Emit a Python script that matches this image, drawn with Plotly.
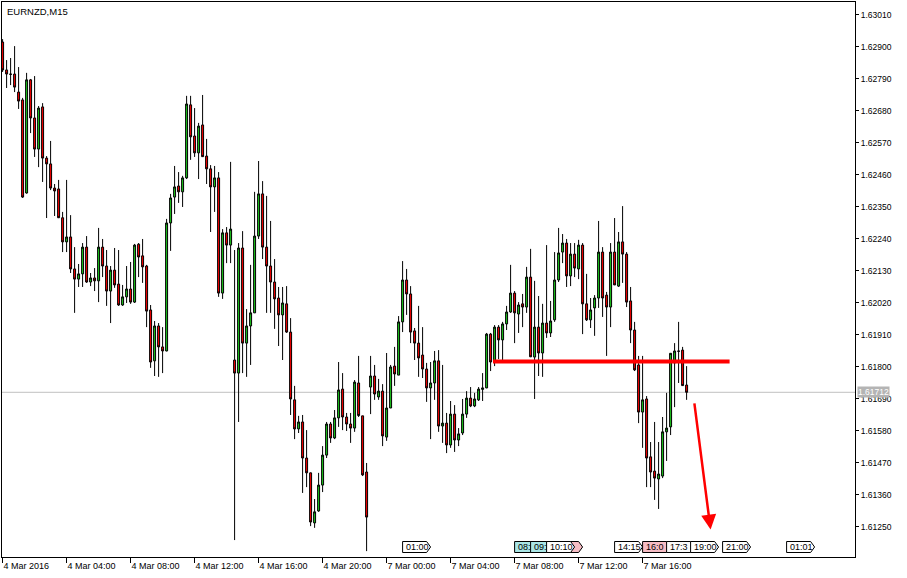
import plotly.graph_objects as go

# ---------------- data ----------------
chart_title = "EURNZD,M15"

open_ = [1.62916, 1.62820, 1.62806, 1.62806, 1.62744, 1.62717, 1.62397, 1.62786, 1.62655, 1.62548,
         1.62693, 1.62517, 1.62497, 1.62414, 1.62411, 1.62312, 1.62229, 1.62246, 1.62136, 1.62101,
         1.62119, 1.62211, 1.62091, 1.62105, 1.62095, 1.62211, 1.62146, 1.62060, 1.62132, 1.62084,
         1.62012, 1.62040, 1.62067, 1.62022, 1.62221, 1.62181, 1.62146, 1.61995, 1.61820, 1.61940,
         1.61868, 1.61854, 1.62294, 1.62383, 1.62421, 1.62401, 1.62449, 1.62700, 1.62593, 1.62535,
         1.62631, 1.62524, 1.62480, 1.62418, 1.62449, 1.62053, 1.62260, 1.62218, 1.61823, 1.61778,
         1.62208, 1.61881, 1.61940, 1.61985, 1.62249, 1.62394, 1.62211, 1.62146, 1.62091, 1.62036,
         1.61978, 1.62016, 1.61919, 1.61686, 1.61586, 1.61610, 1.61486, 1.61435, 1.61263, 1.61304,
         1.61393, 1.61496, 1.61603, 1.61555, 1.61624, 1.61723, 1.61627, 1.61603, 1.61589, 1.61744,
         1.61631, 1.61438, 1.61730, 1.61768, 1.61696, 1.61716, 1.61558, 1.61658, 1.61802, 1.61771,
         1.61954, 1.62098, 1.62050, 1.61923, 1.61881, 1.61840, 1.61792, 1.61727, 1.61744, 1.61820,
         1.61596, 1.61606, 1.61531, 1.61637, 1.61548, 1.61572, 1.61637, 1.61692, 1.61665, 1.61686,
         1.61722, 1.61727, 1.61912, 1.61816, 1.61936, 1.61892, 1.61947, 1.61988, 1.62053, 1.61981,
         1.62016, 1.62005, 1.62108, 1.61833, 1.61936, 1.61847, 1.61950, 1.61916, 1.61961, 1.62098,
         1.62194, 1.62225, 1.62112, 1.62187, 1.62136, 1.62218, 1.62016, 1.61961, 1.62002, 1.62036,
         1.62194, 1.62046, 1.62005, 1.62194, 1.62077, 1.62229, 1.62187, 1.62026, 1.61926, 1.61806,
         1.61644, 1.61689, 1.61490, 1.61441, 1.61414, 1.61424, 1.61576, 1.61593, 1.61813, 1.61854,
         1.61857, 1.61737]

high = [1.62926, 1.62854, 1.62861, 1.62902, 1.62830, 1.62724, 1.62810, 1.62789, 1.62799, 1.62696,
        1.62706, 1.62524, 1.62576, 1.62428, 1.62442, 1.62332, 1.62442, 1.62321, 1.62211, 1.62153,
        1.62225, 1.62249, 1.62122, 1.62139, 1.62277, 1.62239, 1.62201, 1.62146, 1.62208, 1.62201,
        1.62081, 1.62146, 1.62160, 1.62222, 1.62225, 1.62239, 1.62150, 1.62012, 1.61957, 1.61950,
        1.61936, 1.62308, 1.62394, 1.62490, 1.62469, 1.62456, 1.62731, 1.62731, 1.62689, 1.62638,
        1.62734, 1.62583, 1.62493, 1.62490, 1.62469, 1.62273, 1.62280, 1.62504, 1.62201, 1.62225,
        1.62266, 1.61998, 1.62150, 1.62401, 1.62507, 1.62438, 1.62387, 1.62301, 1.62170, 1.62074,
        1.62074, 1.62077, 1.61967, 1.61734, 1.61631, 1.61634, 1.61582, 1.61436, 1.61345, 1.61435,
        1.61527, 1.61610, 1.61610, 1.61651, 1.61816, 1.61778, 1.61641, 1.61641, 1.61754, 1.61837,
        1.61631, 1.61469, 1.61837, 1.61806, 1.61758, 1.61740, 1.61847, 1.61806, 1.61868, 1.61974,
        1.62163, 1.62136, 1.62077, 1.61933, 1.62009, 1.61936, 1.61813, 1.61816, 1.61854, 1.61857,
        1.61806, 1.61641, 1.61682, 1.61668, 1.61589, 1.61689, 1.61716, 1.61730, 1.61710, 1.61730,
        1.61778, 1.61916, 1.61916, 1.61943, 1.61943, 1.61954, 1.62009, 1.62150, 1.62060, 1.62022,
        1.62050, 1.62143, 1.62205, 1.62095, 1.62043, 1.62016, 1.62218, 1.62026, 1.62194, 1.62277,
        1.62256, 1.62239, 1.62225, 1.62225, 1.62236, 1.62225, 1.62119, 1.62036, 1.62046, 1.62301,
        1.62211, 1.62057, 1.62225, 1.62311, 1.62263, 1.62352, 1.62194, 1.62074, 1.61954, 1.61837,
        1.61837, 1.61699, 1.61541, 1.61610, 1.61541, 1.61627, 1.61710, 1.61847, 1.61881, 1.61954,
        1.61868, 1.61802]

low = [1.62813, 1.62758, 1.62768, 1.62744, 1.62686, 1.62380, 1.62395, 1.62603, 1.62521, 1.62486,
       1.62435, 1.62311, 1.62407, 1.62318, 1.62311, 1.62194, 1.62194, 1.62122, 1.61985, 1.62074,
       1.62074, 1.62088, 1.62077, 1.62060, 1.62022, 1.62108, 1.62009, 1.61950, 1.62071, 1.62009,
       1.62009, 1.62019, 1.62016, 1.62019, 1.62108, 1.62088, 1.61936, 1.61796, 1.61768, 1.61765,
       1.61778, 1.61853, 1.62198, 1.62325, 1.62363, 1.62349, 1.62445, 1.62511, 1.62521, 1.62445,
       1.62521, 1.62428, 1.62263, 1.62332, 1.62040, 1.62033, 1.62156, 1.62156, 1.61204, 1.61610,
       1.61778, 1.61765, 1.61806, 1.61985, 1.62239, 1.62170, 1.61985, 1.61985, 1.61930, 1.61871,
       1.61823, 1.61916, 1.61634, 1.61551, 1.61572, 1.61366, 1.61386, 1.61252, 1.61246, 1.61301,
       1.61369, 1.61486, 1.61538, 1.61551, 1.61593, 1.61582, 1.61579, 1.61538, 1.61576, 1.61627,
       1.61424, 1.61166, 1.61637, 1.61686, 1.61686, 1.61527, 1.61545, 1.61658, 1.61734, 1.61771,
       1.61919, 1.61978, 1.61881, 1.61823, 1.61765, 1.61761, 1.61679, 1.61551, 1.61686, 1.61576,
       1.61538, 1.61503, 1.61521, 1.61507, 1.61527, 1.61565, 1.61624, 1.61661, 1.61661, 1.61682,
       1.61682, 1.61726, 1.61785, 1.61802, 1.61826, 1.61823, 1.61926, 1.61985, 1.61881, 1.61916,
       1.61936, 1.61985, 1.61833, 1.61689, 1.61768, 1.61765, 1.61899, 1.61902, 1.61954, 1.62091,
       1.62156, 1.62074, 1.62077, 1.62108, 1.62101, 1.61912, 1.61957, 1.61933, 1.61906, 1.62002,
       1.61971, 1.61837, 1.61936, 1.62081, 1.62074, 1.62088, 1.62005, 1.61881, 1.61785, 1.61606,
       1.61521, 1.61386, 1.61386, 1.61342, 1.61311, 1.61417, 1.61476, 1.61565, 1.61661, 1.61744,
       1.61734, 1.61686]

close = [1.62820, 1.62806, 1.62805, 1.62761, 1.62713, 1.62383, 1.62786, 1.62655, 1.62548, 1.62689,
         1.62517, 1.62497, 1.62414, 1.62404, 1.62312, 1.62229, 1.62246, 1.62136, 1.62101, 1.62119,
         1.62211, 1.62091, 1.62105, 1.62095, 1.62211, 1.62146, 1.62060, 1.62132, 1.62081, 1.62012,
         1.62040, 1.62067, 1.62022, 1.62218, 1.62177, 1.62143, 1.61991, 1.61816, 1.61940, 1.61868,
         1.61854, 1.62294, 1.62380, 1.62418, 1.62401, 1.62449, 1.62703, 1.62590, 1.62535, 1.62627,
         1.62522, 1.62480, 1.62418, 1.62449, 1.62053, 1.62260, 1.62218, 1.62273, 1.61778, 1.62208,
         1.61881, 1.61940, 1.61985, 1.62249, 1.62394, 1.62211, 1.62146, 1.62091, 1.62033, 1.61978,
         1.62019, 1.61919, 1.61689, 1.61586, 1.61610, 1.61486, 1.61435, 1.61266, 1.61301, 1.61393,
         1.61496, 1.61603, 1.61555, 1.61624, 1.61720, 1.61627, 1.61603, 1.61589, 1.61747, 1.61632,
         1.61428, 1.61283, 1.61768, 1.61706, 1.61716, 1.61562, 1.61658, 1.61799, 1.61775, 1.61954,
         1.62098, 1.62050, 1.61919, 1.61881, 1.61830, 1.61792, 1.61727, 1.61744, 1.61820, 1.61596,
         1.61606, 1.61531, 1.61637, 1.61548, 1.61569, 1.61637, 1.61692, 1.61665, 1.61689, 1.61723,
         1.61727, 1.61912, 1.61816, 1.61936, 1.61892, 1.61947, 1.61988, 1.62053, 1.61985, 1.62012,
         1.62005, 1.62108, 1.61834, 1.61936, 1.61847, 1.61950, 1.61916, 1.61957, 1.62098, 1.62191,
         1.62225, 1.62112, 1.62187, 1.62139, 1.62218, 1.62016, 1.61961, 1.61995, 1.62036, 1.62194,
         1.62036, 1.62005, 1.62194, 1.62081, 1.62229, 1.62187, 1.62022, 1.61926, 1.61789, 1.61644,
         1.61686, 1.61486, 1.61438, 1.61417, 1.61431, 1.61576, 1.61589, 1.61846, 1.61854, 1.61853,
         1.61735, 1.61712]

bar_index = list(range(len(close)))

# time axis (bar index of each label; 15-minute bars, weekend removed)
time_tick_index = [0, 16, 32, 48, 64, 80, 96, 112, 128, 144, 160]
time_tick_text = ["4 Mar 2016", "4 Mar 04:00", "4 Mar 08:00", "4 Mar 12:00", "4 Mar 16:00",
                  "4 Mar 20:00", "7 Mar 00:00", "7 Mar 04:00", "7 Mar 08:00", "7 Mar 12:00",
                  "7 Mar 16:00"]

# price axis
price_ticks = [1.61250, 1.61360, 1.61470, 1.61580, 1.61690, 1.61800, 1.61910, 1.62020,
               1.62130, 1.62240, 1.62350, 1.62460, 1.62570, 1.62680, 1.62790, 1.62900, 1.63010]
bid_price = 1.61712

# drawn objects
level_price = 1.61818
level_start_index = 122.6
level_end_index = 181.75
arrow_from = (172.9, 1.61679)
arrow_to = (177.0, 1.61240)

# economic calendar markers (bar index, visible text, fill)
event_index = [138, 100, 128, 132, 136, 153, 160, 166, 172, 180, 196]
event_text = ["", "01:00", "08:", "09:", "10:10", "14:15", "16:0", "17:3", "19:00", "21:00", "01:01"]
event_fill = ["#f6bcc4", "#ffffff", "#a9e6e6", "#a9e6e6", "#ffffff", "#ffffff", "#f6bcc4",
              "#fafafa", "#ffffff", "#ffffff", "#ffffff"]

# ---------------- figure ----------------
FONT = "Liberation Sans, Arial, sans-serif"

fig = go.Figure()
fig.add_trace(go.Candlestick(
    x=bar_index, open=open_, high=high, low=low, close=close,
    increasing=dict(fillcolor="#1ecc1e", line=dict(color="#000000", width=1)),
    decreasing=dict(fillcolor="#ff0000", line=dict(color="#000000", width=1)),
    whiskerwidth=0, hoverinfo="skip", showlegend=False,
))

shapes = []
# bid line
shapes.append(dict(type="line", xref="paper", x0=0, x1=1, yref="y", y0=bid_price, y1=bid_price,
                   line=dict(color="#c0c0c0", width=1), layer="below"))
# red level line
shapes.append(dict(type="line", xref="x", x0=level_start_index, x1=level_end_index, yref="y",
                   y0=level_price, y1=level_price, line=dict(color="#ff0000", width=4), layer="above"))
# event boxes
for idx, fill in zip(event_index, event_fill):
    shapes.append(dict(type="path", xref="x", xsizemode="pixel", xanchor=idx,
                       yref="paper", ysizemode="pixel", yanchor=0,
                       path="M0,4.5 L24,4.5 L28,10 L24,15.5 L0,15.5 Z",
                       fillcolor=fill, line=dict(color="#000000", width=1), layer="above"))

annotations = [
    dict(text=chart_title, xref="paper", yref="paper", x=0, y=1, xanchor="left", yanchor="top",
         xshift=3, yshift=-2, showarrow=False, font=dict(family=FONT, size=9.5, color="#000000")),
    dict(text="1.61712", xref="paper", yref="y", x=1, y=bid_price, xanchor="left", yanchor="middle",
         xshift=2, showarrow=False, bgcolor="#b4b4b4", borderpad=0,
         font=dict(family=FONT, size=8.5, color="#ffffff")),
    dict(text="", x=arrow_to[0], y=arrow_to[1], ax=arrow_from[0], ay=arrow_from[1],
         xref="x", yref="y", axref="x", ayref="y", showarrow=True, arrowhead=2,
         arrowsize=1.2, arrowwidth=2.5, arrowcolor="#ff0000"),
]
for idx, txt in zip(event_index, event_text):
    if txt:
        annotations.append(dict(text=txt, xref="x", yref="paper", x=idx, y=0, xanchor="left",
                                yanchor="middle", xshift=1, yshift=10, showarrow=False,
                                font=dict(family=FONT, size=9, color="#000000")))

fig.update_layout(
    width=907, height=578,
    margin=dict(l=2, r=52, t=2, b=21),
    paper_bgcolor="#ffffff", plot_bgcolor="#ffffff",
    font=dict(family=FONT, size=9, color="#000000"),
    shapes=shapes, annotations=annotations,
    xaxis=dict(range=[-0.15, 213.1], rangeslider=dict(visible=False),
               tickmode="array", tickvals=time_tick_index, ticktext=time_tick_text,
               ticks="outside", ticklen=5, tickcolor="#000000", tickwidth=1,
               ticklabelposition="outside right",
               showgrid=False, zeroline=False, showline=True, linecolor="#000000",
               linewidth=1, mirror=True, tickfont=dict(family=FONT, size=9, color="#000000")),
    yaxis=dict(range=[1.611458, 1.630536], side="right",
               tickmode="array", tickvals=price_ticks, ticktext=[f"{p:.5f}" for p in price_ticks],
               ticks="outside", ticklen=3, tickcolor="#000000", tickwidth=1,
               showgrid=False, zeroline=False, showline=True, linecolor="#000000",
               linewidth=1, mirror=True, tickfont=dict(family=FONT, size=8.5, color="#000000")),
)

fig.write_html("out.html", config={"staticPlot": True},
               post_script="document.body.style.margin='0';document.body.style.overflow='hidden';")
